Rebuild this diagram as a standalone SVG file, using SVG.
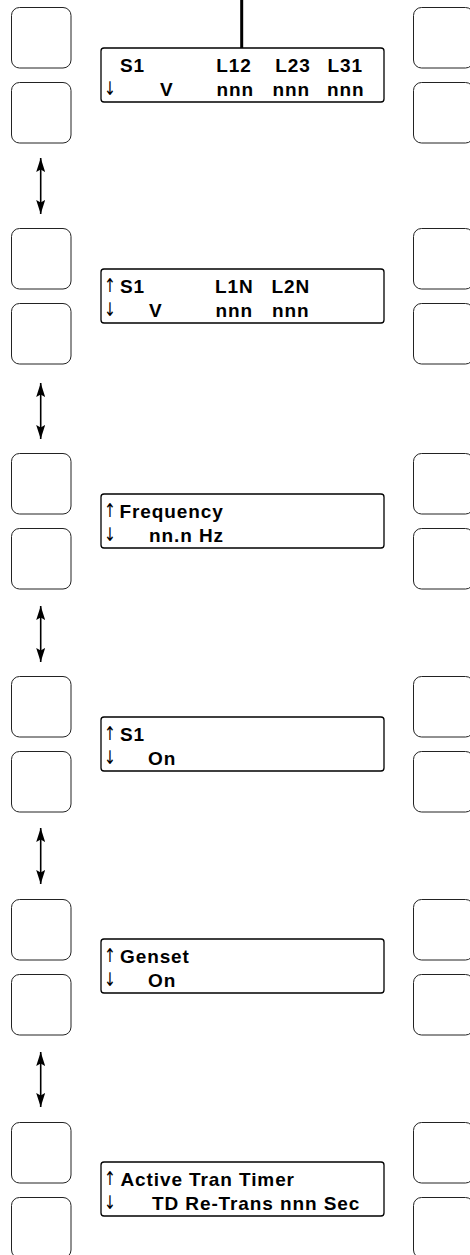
<svg xmlns="http://www.w3.org/2000/svg" width="470" height="1255" viewBox="0 0 470 1255">
<style>
.btn{fill:#fff;stroke:#222;stroke-width:1}
.disp{fill:#fff;stroke:#000;stroke-width:1.3}
.t{font-family:"Liberation Sans",Arial,sans-serif;font-weight:bold;font-size:19px;letter-spacing:0.9px;fill:#000}
.a{font-family:"DejaVu Sans",sans-serif;font-size:19px;fill:#000}
.conn{stroke:#000;stroke-width:1.6;fill:none}
</style>
<defs>
<marker id="ah" viewBox="0 0 14 9" refX="14" refY="4.5" markerWidth="14" markerHeight="9" markerUnits="userSpaceOnUse" orient="auto-start-reverse">
<path d="M0,0 L14,4.5 L0,9 L2.5,4.5 z" fill="#000"/>
</marker>
</defs>
<rect width="470" height="1255" fill="#fff"/>
<g id="connectors">
<line x1="241.7" y1="0" x2="241.7" y2="48" stroke="#000" stroke-width="3"/>
<line class="conn" x1="40.7" y1="158" x2="40.7" y2="214" marker-start="url(#ah)" marker-end="url(#ah)"/>
<line class="conn" x1="40.7" y1="383" x2="40.7" y2="439" marker-start="url(#ah)" marker-end="url(#ah)"/>
<line class="conn" x1="40.7" y1="606" x2="40.7" y2="662" marker-start="url(#ah)" marker-end="url(#ah)"/>
<line class="conn" x1="40.7" y1="828" x2="40.7" y2="884" marker-start="url(#ah)" marker-end="url(#ah)"/>
<line class="conn" x1="40.7" y1="1052" x2="40.7" y2="1107" marker-start="url(#ah)" marker-end="url(#ah)"/>
</g>
<g id="panel1">
<rect class="btn" x="11.5" y="7.5" width="59.5" height="60.5" rx="8"/>
<rect class="btn" x="11.5" y="82.5" width="59.5" height="60.5" rx="8"/>
<rect class="btn" x="413.5" y="7.5" width="60" height="60.5" rx="8"/>
<rect class="btn" x="413.5" y="82.5" width="60" height="60.5" rx="8"/>
<rect class="disp" x="101" y="48" width="283" height="54" rx="3"/>
<text class="t" x="120" y="72">S1</text>
<text class="t" x="216.3" y="72">L12</text>
<text class="t" x="275.3" y="72">L23</text>
<text class="t" x="327.6" y="72">L31</text>
<text class="a" x="104" y="94.5" textLength="12" lengthAdjust="spacingAndGlyphs">↓</text>
<text class="t" x="160" y="95.5">V</text>
<text class="t" x="216.5" y="95.5">nnn</text>
<text class="t" x="272.5" y="95.5">nnn</text>
<text class="t" x="327" y="95.5">nnn</text>
</g>
<g id="panel2">
<rect class="btn" x="11.5" y="228.5" width="59.5" height="60.5" rx="8"/>
<rect class="btn" x="11.5" y="303.5" width="59.5" height="60.5" rx="8"/>
<rect class="btn" x="413.5" y="228.5" width="60" height="60.5" rx="8"/>
<rect class="btn" x="413.5" y="303.5" width="60" height="60.5" rx="8"/>
<rect class="disp" x="101" y="269" width="283" height="54" rx="3"/>
<text class="a" x="104" y="292" textLength="12" lengthAdjust="spacingAndGlyphs">↑</text>
<text class="t" x="120" y="293">S1</text>
<text class="t" x="215" y="293">L1N</text>
<text class="t" x="271.5" y="293">L2N</text>
<text class="a" x="104" y="315.5" textLength="12" lengthAdjust="spacingAndGlyphs">↓</text>
<text class="t" x="149" y="316.5">V</text>
<text class="t" x="215.5" y="316.5">nnn</text>
<text class="t" x="272" y="316.5">nnn</text>
</g>
<g id="panel3">
<rect class="btn" x="11.5" y="453.5" width="59.5" height="60.5" rx="8"/>
<rect class="btn" x="11.5" y="528.5" width="59.5" height="60.5" rx="8"/>
<rect class="btn" x="413.5" y="453.5" width="60" height="60.5" rx="8"/>
<rect class="btn" x="413.5" y="528.5" width="60" height="60.5" rx="8"/>
<rect class="disp" x="101" y="494" width="283" height="54" rx="3"/>
<text class="a" x="104" y="517" textLength="12" lengthAdjust="spacingAndGlyphs">↑</text>
<text class="t" x="119.5" y="518">Frequency</text>
<text class="a" x="104" y="540.5" textLength="12" lengthAdjust="spacingAndGlyphs">↓</text>
<text class="t" x="149" y="541.5">nn.n Hz</text>
</g>
<g id="panel4">
<rect class="btn" x="11.5" y="676.5" width="59.5" height="60.5" rx="8"/>
<rect class="btn" x="11.5" y="751.5" width="59.5" height="60.5" rx="8"/>
<rect class="btn" x="413.5" y="676.5" width="60" height="60.5" rx="8"/>
<rect class="btn" x="413.5" y="751.5" width="60" height="60.5" rx="8"/>
<rect class="disp" x="101" y="717" width="283" height="54" rx="3"/>
<text class="a" x="104" y="740" textLength="12" lengthAdjust="spacingAndGlyphs">↑</text>
<text class="t" x="120" y="741">S1</text>
<text class="a" x="104" y="763.5" textLength="12" lengthAdjust="spacingAndGlyphs">↓</text>
<text class="t" x="148" y="764.5">On</text>
</g>
<g id="panel5">
<rect class="btn" x="11.5" y="899.5" width="59.5" height="60.5" rx="8"/>
<rect class="btn" x="11.5" y="974.5" width="59.5" height="60.5" rx="8"/>
<rect class="btn" x="413.5" y="899.5" width="60" height="60.5" rx="8"/>
<rect class="btn" x="413.5" y="974.5" width="60" height="60.5" rx="8"/>
<rect class="disp" x="101" y="939" width="283" height="54" rx="3"/>
<text class="a" x="104" y="962" textLength="12" lengthAdjust="spacingAndGlyphs">↑</text>
<text class="t" x="120" y="963">Genset</text>
<text class="a" x="104" y="985.5" textLength="12" lengthAdjust="spacingAndGlyphs">↓</text>
<text class="t" x="148" y="986.5">On</text>
</g>
<g id="panel6">
<rect class="btn" x="11.5" y="1122.5" width="59.5" height="60.5" rx="8"/>
<rect class="btn" x="11.5" y="1197.5" width="59.5" height="60.5" rx="8"/>
<rect class="btn" x="413.5" y="1122.5" width="60" height="60.5" rx="8"/>
<rect class="btn" x="413.5" y="1197.5" width="60" height="60.5" rx="8"/>
<rect class="disp" x="101" y="1162" width="283" height="54" rx="3"/>
<text class="a" x="104" y="1185" textLength="12" lengthAdjust="spacingAndGlyphs">↑</text>
<text class="t" x="120.5" y="1186">Active Tran Timer</text>
<text class="a" x="104" y="1208.5" textLength="12" lengthAdjust="spacingAndGlyphs">↓</text>
<text class="t" x="152" y="1209.5">TD Re-Trans nnn Sec</text>
</g>
</svg>
